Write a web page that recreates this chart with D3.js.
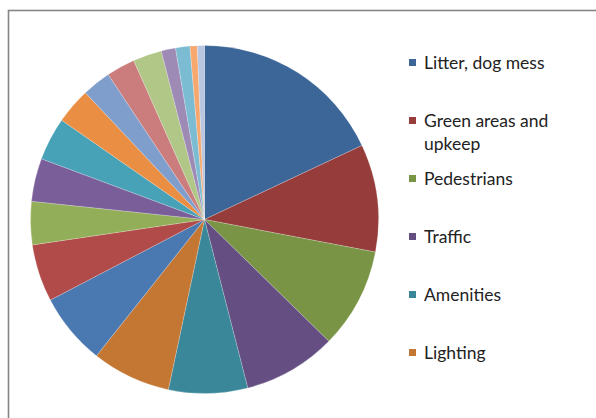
<!DOCTYPE html>
<html>
<head>
<meta charset="utf-8">
<script src="https://cdn.jsdelivr.net/npm/d3@7"></script>
<style>
  html, body { margin: 0; padding: 0; background: #fff; overflow: hidden; }
  svg { display: block; }
</style>
</head>
<body>
<svg id="chart"></svg>
<script>
// categories and counts (reply counts, 150 in total)
const categories = [
  "Litter, dog mess", "Green areas and upkeep", "Pedestrians", "Traffic",
  "Amenities", "Lighting", "Parking", "Noise", "Safety", "Playgrounds",
  "Public transport", "Cycling", "Graffiti", "Benches", "Signage",
  "Drainage", "Shops", "Housing", "Other"
];
const counts = [27, 15, 14, 13, 11, 11, 10, 8, 6, 6, 6, 5, 4, 4, 4, 2, 2, 1, 1];
const colors = [
  "#3c6698", "#963c3b", "#7a9446", "#644e82", "#3a8799", "#c47733",
  "#4a78b0", "#b14b49", "#93ae58", "#7a5e9a", "#47a1b7", "#e98e42",
  "#7f9ecc", "#ca7d7c", "#b0c787", "#9d8bb6", "#7cbcd3", "#f6a86f",
  "#b9c6e0"
];
// only the first six fit in the legend box
const legendShown = 6;

const width = 596, height = 418;
const svg = d3.select("#chart").attr("width", width).attr("height", height);

// chart area frame (runs past the right and bottom edges)
svg.append("rect")
  .attr("x", 8.5).attr("y", 10.5)
  .attr("width", 620).attr("height", 440)
  .attr("fill", "#fff")
  .attr("stroke", "#868686")
  .attr("stroke-width", 1.6);

const cx = 204.5, cy = 219.5, radius = 174;

const pie = d3.pie().sort(null).value(d => d.value);
const arc = d3.arc().innerRadius(0).outerRadius(radius);

const data = categories.map((c, i) => ({ name: c, value: counts[i], color: colors[i] }));

const g = svg.append("g").attr("transform", `translate(${cx},${cy})`);
g.selectAll("path")
  .data(pie(data))
  .enter()
  .append("path")
  .attr("d", arc)
  .attr("fill", d => d.data.color)
  .attr("stroke", "#ffffff")
  .attr("stroke-opacity", 0.35)
  .attr("stroke-width", 0.6);

// legend
const legend = svg.append("g").attr("transform", "translate(409,0)");
const rowY = d3.scaleLinear().domain([0, 1]).range([62.5, 120.5]);

const items = legend.selectAll(".item")
  .data(data.slice(0, legendShown))
  .enter()
  .append("g")
  .attr("class", "item")
  .attr("transform", (d, i) => `translate(0,${rowY(i)})`);

items.append("rect")
  .attr("x", 0).attr("y", -3.5)
  .attr("width", 7).attr("height", 7)
  .attr("fill", d => d.color);

items.append("text")
  .attr("x", 15)
  .attr("y", 0)
  .attr("font-family", "Lato, 'Open Sans', sans-serif")
  .attr("font-size", 17.5)
  .attr("fill", "#222")
  .each(function(d) {
    const t = d3.select(this);
    // wrap the long label like the original
    const lines = d.name === "Green areas and upkeep" ? ["Green areas and", "upkeep"] : [d.name];
    lines.forEach((l, k) => {
      t.append("tspan").attr("x", 15).attr("dy", k === 0 ? "0.36em" : "23px").text(l);
    });
  });
</script>
</body>
</html>
